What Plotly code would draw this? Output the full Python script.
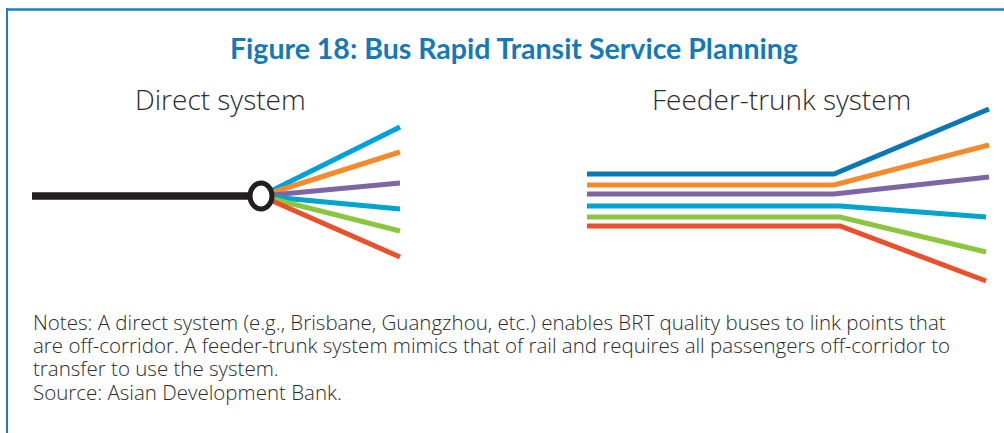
import plotly.graph_objects as go

W, H = 1004, 433

title_text = "Figure 18: Bus Rapid Transit Service Planning"
panel_titles = ["Direct system", "Feeder-trunk system"]
notes_lines = [
    "Notes: A direct system (e.g., Brisbane, Guangzhou, etc.) enables BRT quality buses to link points that",
    "are off-corridor. A feeder-trunk system mimics that of rail and requires all passengers off-corridor to",
    "transfer to use the system.",
    "Source: Asian Development Bank.",
]

# Direct system: trunk line, hub and fan of routes
direct_trunk_x = [32, 261]
direct_trunk_y = [196, 196]
hub_x, hub_y = 261, 196
direct_fan_end_x = 400
direct_fan_end_y = [127, 152, 183, 209, 231, 257]
direct_colors = ["#00a0dc", "#f58a2c", "#7e66a6", "#00a4cc", "#8cc63f", "#e9502b"]

# Feeder-trunk system: parallel trunk lines that split out
feeder_start_x = 587
feeder_bend_x = [834, 834, 834, 840, 840, 840]
feeder_trunk_y = [174, 185, 194, 206, 217, 226]
feeder_end_x = [989, 989, 989, 986, 986, 986]
feeder_end_y = [109, 145, 177, 217, 252, 281]
feeder_colors = ["#0a78b5", "#f58a2c", "#7e66a6", "#00a4cc", "#8cc63f", "#e9502b"]

fig = go.Figure()

for y_end, c in zip(direct_fan_end_y, direct_colors):
    fig.add_trace(go.Scatter(x=[hub_x, direct_fan_end_x], y=[hub_y, y_end], mode="lines",
                             line=dict(color=c, width=5), hoverinfo="skip"))
fig.add_trace(go.Scatter(x=direct_trunk_x, y=direct_trunk_y, mode="lines",
                         line=dict(color="#231f20", width=7.5), hoverinfo="skip"))

for bx, ty, ex, ey, c in zip(feeder_bend_x, feeder_trunk_y, feeder_end_x, feeder_end_y, feeder_colors):
    fig.add_trace(go.Scatter(x=[feeder_start_x, bx, ex], y=[ty, ty, ey], mode="lines",
                             line=dict(color=c, width=5), hoverinfo="skip"))

shapes = [
    dict(type="circle", xref="x", yref="y", x0=hub_x - 11, x1=hub_x + 11, y0=hub_y - 13, y1=hub_y + 13,
         line=dict(color="#231f20", width=5), fillcolor="white", layer="above"),
    dict(type="line", xref="x", yref="y", x0=6, x1=W, y0=9.5, y1=9.5,
         line=dict(color="#1a7fbf", width=2.5)),
    dict(type="line", xref="x", yref="y", x0=7, x1=7, y0=8.3, y1=H,
         line=dict(color="#1a7fbf", width=2)),
]

annotations = [
    dict(x=514, y=48, text="<b>" + title_text + "</b>", showarrow=False, xref="x", yref="y",
         font=dict(family="Lato", size=28.5, color="#1479b8"), xanchor="center", yanchor="middle"),
    dict(x=220, y=99, text=panel_titles[0], showarrow=False, xref="x", yref="y",
         font=dict(family="Open Sans", size=28, color="#2b2b2b", weight=300),
         xanchor="center", yanchor="middle"),
    dict(x=781, y=99, text=panel_titles[1], showarrow=False, xref="x", yref="y",
         font=dict(family="Open Sans", size=28, color="#2b2b2b", weight=300),
         xanchor="center", yanchor="middle"),
]
note_y = [322, 345, 368, 392]
for t, yy in zip(notes_lines, note_y):
    annotations.append(dict(x=32, y=yy, text=t, showarrow=False, xref="x", yref="y",
                            font=dict(family="Open Sans", size=20.5, color="#2b2b2b", weight=300),
                            xanchor="left", yanchor="middle", borderpad=0))

fig.update_layout(
    width=W, height=H, margin=dict(l=0, r=0, t=0, b=0),
    paper_bgcolor="white", plot_bgcolor="white", showlegend=False,
    xaxis=dict(range=[0, W], visible=False, fixedrange=True),
    yaxis=dict(range=[H, 0], visible=False, fixedrange=True),
    shapes=shapes, annotations=annotations,
)

fig.write_html("out.html", config={"displayModeBar": False},
               post_script="document.body.style.margin='0';document.body.style.overflow='hidden';")
